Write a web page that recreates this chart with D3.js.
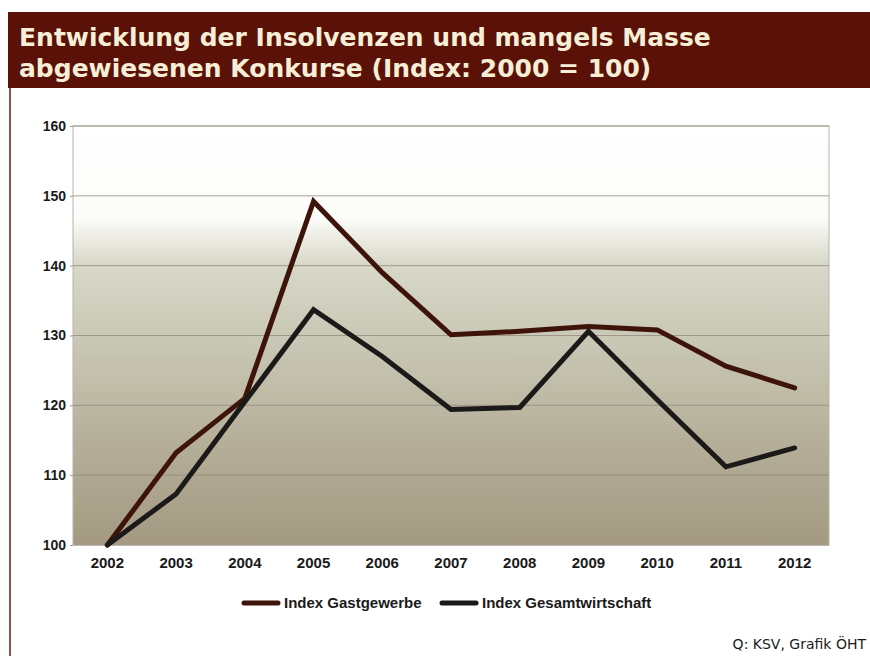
<!DOCTYPE html>
<html>
<head>
<meta charset="utf-8">
<script src="https://cdn.jsdelivr.net/npm/d3@7"></script>
<style>
html,body{margin:0;padding:0;background:#ffffff;}
svg{display:block;}
</style>
</head>
<body>
<svg id="chart" width="870" height="656"></svg>
<script>
const years = ["2002","2003","2004","2005","2006","2007","2008","2009","2010","2011","2012"];
const gastgewerbe = [100, 113.2, 121.0, 149.2, 139.0, 130.1, 130.6, 131.3, 130.8, 125.6, 122.5];
const gesamtwirtschaft = [100, 107.3, 120.5, 133.7, 127.0, 119.4, 119.7, 130.6, 120.8, 111.2, 113.9];
const yTicks = [100, 110, 120, 130, 140, 150, 160];
const seriesNames = ["Index Gastgewerbe", "Index Gesamtwirtschaft"];
const seriesColors = ["#3e1309", "#1b1a18"];
const titleLines = ["Entwicklung der Insolvenzen und mangels Masse", "abgewiesenen Konkurse (Index: 2000 = 100)"];
const sourceText = "Q: KSV, Grafik ÖHT";

const svg = d3.select("#chart");
const W = 870, H = 656;

// page frame
svg.append("rect").attr("x",0).attr("y",0).attr("width",W).attr("height",H).attr("fill","#ffffff");
svg.append("line").attr("x1",10).attr("x2",10).attr("y1",86).attr("y2",H)
  .attr("stroke","#6e2a1c").attr("stroke-width",1.6);

// title bar
svg.append("rect").attr("x",8).attr("y",12).attr("width",W-8).attr("height",76).attr("fill","#5a1107");
svg.selectAll("text.title").data(titleLines).enter().append("text")
  .attr("class","title")
  .attr("x",19).attr("y",(d,i)=>46+i*31)
  .attr("fill","#f6eed6")
  .attr("font-family","'DejaVu Sans', Verdana, sans-serif")
  .attr("font-weight","bold")
  .attr("font-size",25)
  .text(d=>d);

// plot
const plot = {left:73, right:829, top:126, bottom:545};
const x = d3.scaleBand().domain(years).range([plot.left, plot.right]);
const xc = d => x(d) + x.bandwidth()/2;
const y = d3.scaleLinear().domain([100,160]).range([plot.bottom, plot.top]);

const defs = svg.append("defs");
const grad = defs.append("linearGradient").attr("id","bg").attr("x1",0).attr("y1",0).attr("x2",0).attr("y2",1);
[[0,"#ffffff"],[0.22,"#fcfcfa"],[0.27,"#ebebe2"],[0.33,"#d8d8c9"],[0.55,"#c6c4b1"],[0.8,"#b1aa94"],[1,"#a49a83"]]
  .forEach(([o,c])=>grad.append("stop").attr("offset",o).attr("stop-color",c));

svg.append("rect").attr("x",plot.left).attr("y",plot.top)
  .attr("width",plot.right-plot.left).attr("height",plot.bottom-plot.top)
  .attr("fill","url(#bg)").attr("stroke","#b8b4a8").attr("stroke-width",1);

// gridlines
svg.append("g").selectAll("line").data(yTicks).enter().append("line")
  .attr("x1",plot.left).attr("x2",plot.right)
  .attr("y1",d=>y(d)).attr("y2",d=>y(d))
  .attr("stroke","#968c7c").attr("stroke-width",1).attr("opacity",0.8);

// y axis
const yAxis = svg.append("g").attr("transform",`translate(${plot.left},0)`)
  .call(d3.axisLeft(y).tickValues(yTicks).tickSize(3).tickPadding(4));
yAxis.select(".domain").remove();
yAxis.selectAll("line").attr("stroke","#9a9a9a");
yAxis.selectAll("text").attr("font-family","'Liberation Sans', Arial, sans-serif")
  .attr("font-size",14).attr("font-weight","bold").attr("fill","#1a1a1a");

// x axis
const xAxis = svg.append("g").attr("transform",`translate(0,${plot.bottom})`)
  .call(d3.axisBottom(x).tickSize(0).tickPadding(12));
xAxis.select(".domain").remove();
xAxis.selectAll("text").attr("font-family","'Liberation Sans', Arial, sans-serif")
  .attr("font-size",15).attr("font-weight","bold").attr("fill","#1a1a1a");

// lines
const line = d3.line().x((d,i)=>xc(years[i])).y(d=>y(d));
[gastgewerbe, gesamtwirtschaft].forEach((s,k)=>{
  svg.append("path").datum(s).attr("d",line)
    .attr("fill","none").attr("stroke",seriesColors[k]).attr("stroke-width",5)
    .attr("stroke-linejoin","miter").attr("stroke-linecap","round");
});

// legend
const legendItems = [{x:244, name:seriesNames[0], c:seriesColors[0]},{x:442, name:seriesNames[1], c:seriesColors[1]}];
const lg = svg.append("g");
legendItems.forEach(it=>{
  lg.append("line").attr("x1",it.x).attr("x2",it.x+34).attr("y1",603).attr("y2",603)
    .attr("stroke",it.c).attr("stroke-width",5).attr("stroke-linecap","round");
  lg.append("text").attr("x",it.x+40).attr("y",608)
    .attr("font-family","'Liberation Sans', Arial, sans-serif")
    .attr("font-size",15).attr("font-weight","bold").attr("fill","#1a1a1a").text(it.name);
});

// source
svg.append("text").attr("x",866).attr("y",649).attr("text-anchor","end")
  .attr("font-family","'DejaVu Sans', Verdana, sans-serif")
  .attr("font-size",14).attr("fill","#1a1a1a").text(sourceText);
</script>
</body>
</html>
